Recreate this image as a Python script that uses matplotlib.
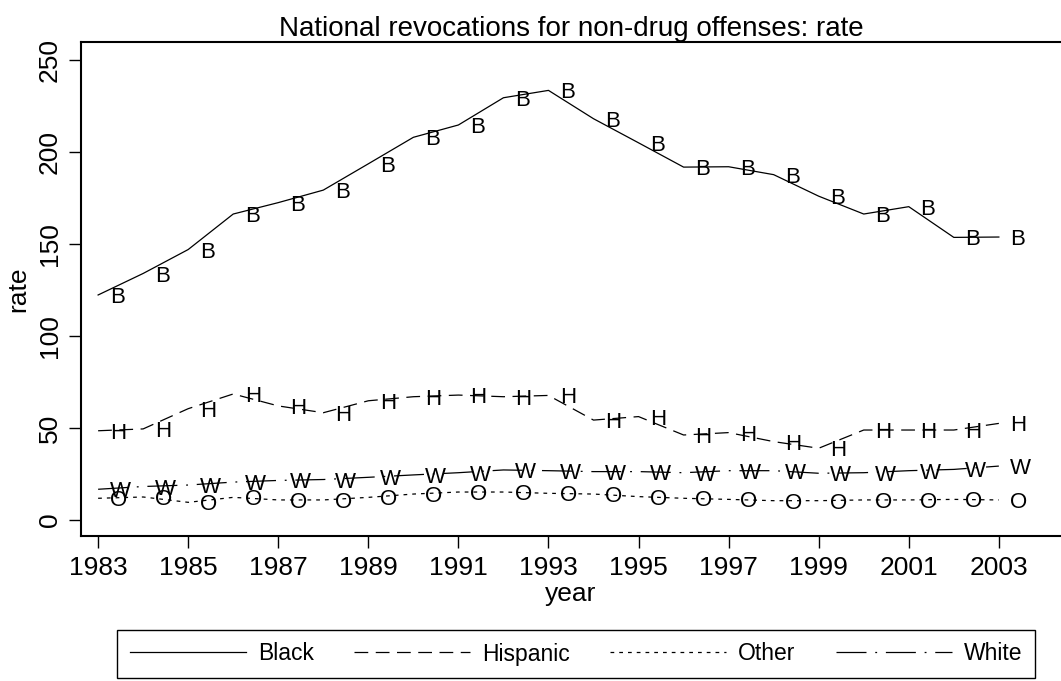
import matplotlib
matplotlib.use("Agg")
import matplotlib.pyplot as plt

years = list(range(1983, 2004))
black = [122.3, 134, 147, 166.3, 172.5, 179.3, 193.6, 208, 214.7, 229.5, 233.5,
         218.1, 205, 191.8, 192, 187.7, 176, 166.3, 170.3, 153.6, 153.8]
hispanic = [48.5, 49.5, 60.5, 68.5, 62, 58.3, 64.8, 67, 67.9, 67, 67.7,
            54.3, 56.2, 46.2, 47.5, 42.6, 39, 48.9, 48.9, 48.9, 52.5]
other = [11.8, 12.5, 9.6, 12.3, 10.9, 10.9, 12.3, 14.1, 15.2, 15.2, 14.5,
         14.1, 12.7, 11.8, 11.2, 10.5, 10.5, 10.9, 10.9, 11.2, 10.9]
white = [16.7, 18.2, 19, 20.6, 21.5, 22, 23.2, 24.5, 25.7, 27.2, 26.8,
         26.3, 26.3, 25.7, 26.8, 26.8, 25.4, 25.7, 26.8, 27.5, 29.3]

series = [
    ("Black", black, "B", "-"),
    ("Hispanic", hispanic, "H", (0, (11, 6))),
    ("Other", other, "O", (0, (3, 4))),
    ("White", white, "W", (0, (24, 7, 1.5, 7))),
]

xticks = list(range(1983, 2004, 2))
yticks = [0, 50, 100, 150, 200, 250]

plt.rcParams['font.family'] = ['Liberation Sans', 'DejaVu Sans']

fig = plt.figure(figsize=(10.61, 6.81), dpi=100)
ax = fig.add_axes([81/1061, 1-536/681, 980/1061, 494/681])

for name, vals, lab, ls in series:
    ax.plot(years, vals, color='black', lw=0.9, linestyle=ls, label=name)
    for x, y in zip(years, vals):
        ax.annotate(lab, (x, y), xytext=(8.3, -5.8), textcoords='offset points',
                    ha='left', va='baseline', fontsize=16, color='black')

ax.set_xlim(1982.62, 2004.38)
ax.set_ylim(-8.7, 259.8)
ax.set_xticks(xticks)
ax.set_xticklabels([str(t) for t in xticks])
ax.set_yticks(yticks)
ax.set_yticklabels([str(t) for t in yticks], rotation=90, va='center')

ax.tick_params(axis='both', direction='out', length=8.6, width=1.0,
               labelsize=19, color='black')
ax.tick_params(axis='x', pad=6)
ax.tick_params(axis='y', pad=5)

for s in ['left', 'bottom', 'top']:
    ax.spines[s].set_linewidth(1.5)
ax.spines['right'].set_visible(False)

ax.set_title("National revocations for non-drug offenses: rate", fontsize=20, pad=4)
ax.set_xlabel("year", fontsize=19)
ax.set_ylabel("rate", fontsize=19)
ax.xaxis.set_label_coords(0.5, -0.093)
ax.yaxis.set_label_coords(-0.052, 0.5)

leg = fig.legend(loc='center', ncol=4, mode='expand',
                 bbox_to_anchor=(117/1061, 1-680/681, 918/1061, 52/681),
                 borderaxespad=0,
                 fontsize=16.5, handlelength=5.07, handletextpad=0.52,
                 borderpad=0.55, fancybox=False, frameon=True, framealpha=1)
leg.get_frame().set_edgecolor('black')
leg.get_frame().set_linewidth(1.0)

fig.savefig("out.png", dpi=100)
